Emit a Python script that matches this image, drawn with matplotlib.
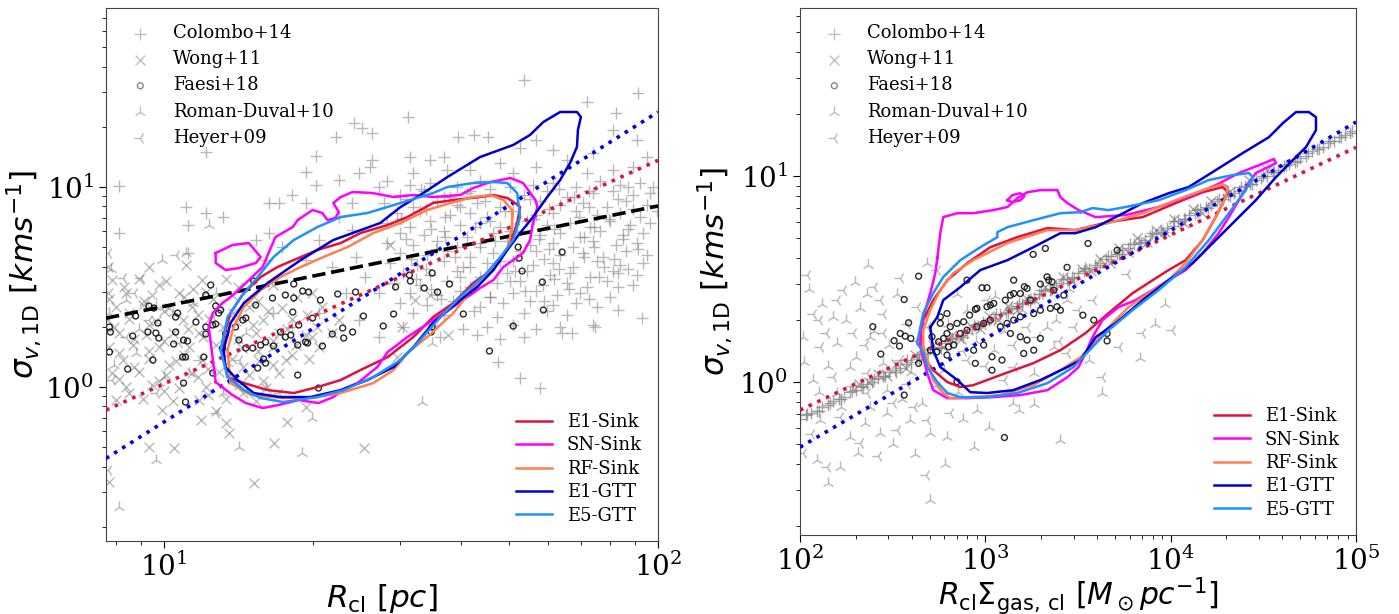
import numpy as np
import matplotlib
matplotlib.use('Agg')
import matplotlib.pyplot as plt
from matplotlib.ticker import NullFormatter

plt.rcParams['font.family'] = ['DejaVu Serif']
plt.rcParams['mathtext.fontset'] = 'dejavusans'

# ---------------- data (log10 values) ----------------
# Left panel: (log10 R_cl [pc], log10 sigma [km/s])
colombo_left = [
    (1.451,1.03),(1.499,1.01),(1.539,1.02),(1.593,1.00),(1.640,1.03),(1.748,1.01),(1.788,1.02),(1.835,1.00),(1.882,1.03),(1.923,1.01),(1.963,1.02),(1.990,1.00),
    (1.478,0.96),(1.526,0.98),(1.566,0.95),(1.613,0.97),(1.660,0.99),(1.728,0.96),(1.775,0.98),(1.815,0.95),(1.869,0.97),(1.909,0.98),(1.950,0.96),(1.983,0.97),
    (1.445,0.92),(1.505,0.90),(1.552,0.93),(1.593,0.91),(1.633,0.92),(1.680,0.90),(1.761,0.93),(1.802,0.91),(1.849,0.92),(1.896,0.90),(1.936,0.93),(1.977,0.91),
    (1.472,0.87),(1.519,0.88),(1.579,0.86),(1.620,0.87),(1.653,0.85),(1.707,0.88),(1.754,0.86),(1.788,0.87),(1.835,0.88),(1.876,0.86),(1.923,0.87),(1.963,0.85),(1.997,0.88),
    (1.451,0.82),(1.499,0.80),(1.539,0.83),(1.600,0.81),(1.640,0.82),(1.680,0.80),(1.734,0.83),(1.775,0.81),(1.822,0.82),(1.862,0.80),(1.903,0.83),(1.943,0.81),(1.983,0.82),
    (1.478,0.77),(1.526,0.76),(1.566,0.78),(1.613,0.75),(1.667,0.77),(1.714,0.78),(1.761,0.76),(1.802,0.77),(1.842,0.75),(1.882,0.78),(1.930,0.76),(1.970,0.77),
    (1.451,0.72),(1.505,0.71),(1.552,0.73),(1.593,0.70),(1.640,0.72),(1.694,0.73),(1.741,0.71),(1.788,0.72),(1.829,0.70),(1.869,0.73),(1.916,0.71),(1.957,0.72),
    (1.478,0.67),(1.532,0.66),(1.573,0.68),(1.620,0.65),(1.667,0.67),(1.754,0.68),(1.802,0.66),(1.849,0.67),(1.889,0.65),(1.936,0.68),(1.977,0.66),
    (1.458,0.62),(1.512,0.61),(1.566,0.63),(1.606,0.60),(1.653,0.62),(1.707,0.63),(1.748,0.61),(1.788,0.62),(1.829,0.60),(1.876,0.63),(1.923,0.61),(1.970,0.62),
    (1.485,0.57),(1.539,0.56),(1.593,0.58),(1.640,0.55),(1.694,0.57),(1.734,0.58),(1.781,0.56),(1.822,0.57),(1.862,0.55),(1.909,0.58),(1.957,0.56),
    (1.465,0.52),(1.519,0.51),(1.573,0.53),(1.620,0.50),(1.674,0.52),(1.721,0.53),(1.768,0.51),(1.815,0.52),(1.856,0.50),(1.896,0.53),(1.950,0.51),
    (1.499,0.47),(1.552,0.46),(1.600,0.48),(1.660,0.45),(1.707,0.47),(1.754,0.48),(1.795,0.46),(1.842,0.47),(1.903,0.45),
    (1.478,0.42),(1.532,0.41),(1.586,0.43),(1.640,0.40),(1.687,0.42),(1.741,0.43),(1.788,0.41),(1.835,0.42),(1.876,0.40),
    (1.505,0.37),(1.566,0.36),(1.627,0.38),(1.674,0.35),(1.728,0.37),(1.775,0.38),(1.815,0.36),
    (1.485,0.30),(1.546,0.31),(1.606,0.29),(1.653,0.30),(1.707,0.31),(1.754,0.29),(1.802,0.30),(1.869,0.31),
    (1.559,0.25),(1.633,0.26),(1.680,0.24),(1.728,0.25),
    (1.52,0.99),(1.62,0.98),(1.70,1.00),(1.80,0.99),(1.86,0.98),(1.94,1.00),
    (1.49,0.94),(1.58,0.95),(1.65,0.93),(1.74,0.94),(1.83,0.95),(1.92,0.94),
    (1.53,0.89),(1.60,0.90),(1.69,0.88),(1.78,0.89),(1.86,0.90),(1.95,0.89),
    (1.48,0.84),(1.57,0.85),(1.66,0.83),(1.75,0.84),(1.84,0.85),(1.90,0.84),
    (1.54,0.79),(1.63,0.80),(1.70,0.78),(1.79,0.79),(1.87,0.80),(1.94,0.79),
    (1.49,0.74),(1.57,0.75),(1.67,0.73),(1.76,0.74),(1.85,0.75),(1.93,0.74),
    (1.55,0.69),(1.64,0.70),(1.72,0.68),(1.78,0.69),(1.87,0.70),(1.96,0.69),
    (1.50,0.64),(1.59,0.65),(1.68,0.63),(1.77,0.64),(1.85,0.65),(1.91,0.64),
    (1.53,0.59),(1.62,0.60),(1.71,0.58),(1.80,0.59),(1.89,0.60),(1.94,0.59),
    (1.51,0.54),(1.60,0.55),(1.70,0.53),(1.79,0.54),(1.88,0.55),
    (1.54,0.49),(1.63,0.50),(1.73,0.48),(1.82,0.49),(1.92,0.50),
    (1.56,0.44),(1.66,0.45),(1.77,0.43),(1.86,0.44),
    (1.596,1.252),(1.627,1.26),(1.657,1.252),(1.754,1.235),(1.788,1.185),(1.815,1.135),(1.869,1.168),(1.909,1.285),
    (1.957,1.235),(1.977,1.152),(1.950,1.102),(1.909,1.085),(1.721,1.193),(1.539,1.135),(1.566,1.152),(1.499,1.152),
    (1.505,1.068),(1.573,1.085),(1.620,1.085),(1.680,1.118),(1.707,1.068),(1.754,1.102),(1.856,1.068),
    (1.728,1.535),(1.960,1.468),(1.856,1.427),(1.916,1.368),(1.495,1.348),
    (1.677,0.127),(1.721,0.043),(1.761,-0.007),(1.805,0.268),(1.825,0.268),(1.872,0.302),(1.919,0.385),(1.967,0.343),(1.919,0.568),
    (0.910,1.005),(1.085,1.177),(1.045,0.902),(1.085,0.868),(1.119,0.852),(0.910,0.772),(1.048,0.810),(1.048,0.668),
    (1.307,1.155),(1.287,1.077),(1.348,1.252),(1.385,1.318),(1.401,1.293),(1.422,1.268),(1.213,0.918),(1.233,0.918),
    (1.422,1.135),(1.418,1.102),(1.395,1.068),(1.354,1.035),(1.260,0.960),(1.307,1.010),(1.287,0.918),(1.381,0.918),
    (1.435,1.002),(1.186,0.735),(1.213,0.768),(1.240,0.702),(1.354,0.852),(1.381,0.785),(1.388,0.652),(1.314,0.735),
    (1.287,0.635),(1.206,0.635),(1.341,0.602),(1.408,0.552),(1.435,0.468),(1.368,0.468),(1.314,0.368),(1.395,0.335),
    (1.435,0.252),(1.260,0.302),(1.220,0.368),
]

wong_left = [
    (0.888,0.602),(0.971,0.60),(1.045,0.61),
    (0.896,0.535),(0.950,0.54),(1.004,0.53),(1.078,0.535),(1.125,0.54),
    (0.888,0.468),(0.923,0.47),(0.977,0.46),(1.031,0.468),(1.085,0.475),(1.139,0.46),(1.300,0.468),
    (0.903,0.402),(0.957,0.41),(1.011,0.395),(1.058,0.40),(1.112,0.41),(1.173,0.40),(1.240,0.395),(1.321,0.402),
    (0.888,0.335),(0.930,0.34),(0.984,0.33),(1.038,0.335),(1.092,0.34),(1.146,0.33),(1.200,0.335),(1.260,0.34),(1.354,0.335),
    (0.910,0.268),(0.964,0.26),(1.018,0.27),(1.071,0.268),(1.125,0.26),(1.186,0.27),(1.233,0.268),(1.287,0.26),(1.341,0.27),
    (0.890,0.202),(0.937,0.21),(0.991,0.20),(1.051,0.202),(1.105,0.21),(1.159,0.195),(1.220,0.202),(1.267,0.21),(1.314,0.20),
    (0.917,0.135),(0.971,0.14),(1.024,0.13),(1.078,0.135),(1.139,0.14),(1.193,0.13),(1.247,0.135),(1.294,0.14),
    (0.896,0.068),(0.950,0.075),(1.004,0.06),(1.058,0.068),(1.112,0.075),(1.173,0.06),(1.233,0.068),
    (0.923,0.002),(0.977,0.01),(1.031,-0.005),(1.085,0.002),(1.152,0.01),(1.206,-0.005),
    (0.903,-0.065),(0.957,-0.06),(1.018,-0.07),(1.071,-0.065),(1.125,-0.06),(1.186,-0.07),
    (0.997,-0.115),(1.105,-0.12),
    (0.92,0.50),(0.99,0.51),(1.06,0.49),(1.15,0.50),(1.22,0.51),
    (0.89,0.44),(0.96,0.43),(1.04,0.45),(1.10,0.44),(1.19,0.43),(1.27,0.45),
    (0.93,0.37),(1.00,0.38),(1.07,0.36),(1.14,0.37),(1.21,0.38),(1.29,0.36),
    (0.90,0.30),(0.97,0.31),(1.05,0.29),(1.12,0.30),(1.18,0.31),(1.25,0.29),(1.31,0.30),
    (0.94,0.24),(1.00,0.23),(1.08,0.25),(1.15,0.24),(1.22,0.23),(1.30,0.25),
    (0.91,0.17),(0.97,0.18),(1.04,0.16),(1.12,0.17),(1.19,0.18),(1.26,0.16),
    (0.94,0.10),(1.01,0.11),(1.09,0.09),(1.16,0.10),(1.22,0.11),
    (0.91,0.04),(0.99,0.03),(1.07,0.05),(1.14,0.04),(1.20,0.03),
    (0.93,-0.03),(1.00,-0.02),(1.09,-0.04),(1.16,-0.03),
    (1.075,-0.165),(1.125,-0.182),(1.132,-0.232),(1.021,-0.307),(0.971,-0.298),(1.183,-0.482),
    (1.223,-0.282),(1.250,-0.173),(1.405,-0.307),(0.890,-0.473),(1.287,-0.098),
    (1.509,0.435),(1.539,0.46),(1.576,0.26),(1.458,0.71),(1.482,0.302),(1.472,0.152),
]

faesi_left = [
    (1.095,0.51),(1.085,0.46),(0.970,0.405),(0.980,0.395),(1.028,0.37),(1.024,0.35),(0.943,0.355),(1.065,0.325),
    (0.890,0.30),(0.892,0.275),(0.988,0.32),(0.968,0.275),(0.937,0.255),(0.984,0.27),(0.990,0.245),(1.024,0.275),
    (1.040,0.235),(1.048,0.23),(1.020,0.215),(1.085,0.30),(1.085,0.265),(1.099,0.31),(1.105,0.315),(1.111,0.37),
    (1.105,0.405),(1.115,0.385),(0.890,0.175),(0.927,0.09),(0.978,0.135),(1.038,0.15),(1.044,0.15),(1.081,0.15),
    (1.099,0.07),(1.040,0.02),(1.044,-0.075),(1.119,0.195),(1.125,0.265),(1.145,0.30),(1.152,0.235),(1.160,0.335),
    (1.166,0.345),(1.182,0.53),(1.186,0.41),(1.220,0.445),(1.246,0.46),(1.263,0.445),(1.263,0.515),(1.281,0.48),
    (1.293,0.475),(1.317,0.435),(1.352,0.465),(1.388,0.475),(1.404,0.355),(1.444,0.305),(1.362,0.295),(1.364,0.245),
    (1.382,0.275),(1.341,0.265),(1.321,0.205),(1.287,0.225),(1.291,0.22),(1.271,0.21),(1.257,0.26),(1.246,0.25),
    (1.222,0.205),(1.206,0.225),(1.196,0.21),(1.180,0.195),(1.166,0.195),(1.202,0.14),(1.206,0.12),(1.190,0.095),
    (1.271,0.06),(1.313,-0.005),(1.273,0.31),(1.261,0.375),(1.301,0.345),(1.236,0.275),
    (1.717,0.70),(1.719,0.645),(1.725,0.58),(1.806,0.675),(1.766,0.525),(1.768,0.385),(1.707,0.305),(1.543,0.57),
    (1.497,0.56),(1.499,0.53),(1.469,0.50),(1.527,0.495),(1.554,0.475),(1.578,0.515),(1.465,0.365),(1.606,0.365),
    (1.543,0.30),(1.541,0.275),(1.659,0.18),
]

romanduval_left = [
    (0.997,0.635),(1.045,0.672),(0.893,0.588),(1.092,0.81),(0.984,0.402),(1.300,-0.157),(1.280,-0.332),
    (0.984,-0.365),(0.910,-0.598),(1.152,-0.298),(1.542,0.218),(1.522,-0.073),(0.923,0.435),(1.018,0.368),
    (1.105,0.468),(0.944,0.168),(1.051,0.068),(1.166,0.268),(0.890,0.368),(1.119,-0.032),(1.206,0.002),
    (0.95,0.29),(1.06,0.42),(1.13,0.12),(0.90,0.11),(1.00,0.05),
]

heyer_left = [
    (1.024,0.66),(0.917,0.543),(0.954,0.543),(0.888,0.668),(0.971,0.335),(1.071,0.135),(0.896,0.035),
    (0.984,-0.032),(1.152,0.135),(0.923,0.252),(1.233,-0.032),(1.105,-0.132),(0.888,-0.415),
    (1.03,0.22),(1.10,0.35),(0.94,0.47),
]

# Right panel: (log10 R_cl*Sigma_gas [Msun/pc], log10 sigma [km/s])
colombo_right = [
    (2.00,-0.18),(2.03,-0.16),(2.06,-0.15),(2.09,-0.14),(2.12,-0.12),(2.15,-0.11),(2.18,-0.09),(2.21,-0.08),
    (2.24,-0.07),(2.27,-0.05),(2.30,-0.04),(2.33,-0.02),(2.36,-0.01),(2.39,0.00),(2.42,0.02),(2.45,0.03),
    (2.48,0.05),(2.51,0.06),(2.54,0.07),(2.57,0.09),(2.60,0.10),(2.63,0.12),(2.66,0.13),(2.69,0.14),
    (2.72,0.16),(2.75,0.17),(2.78,0.19),(2.81,0.20),(2.84,0.21),(2.87,0.23),(2.90,0.24),(2.93,0.26),
    (2.96,0.27),(2.99,0.29),(3.02,0.30),(3.05,0.31),(3.08,0.33),(3.11,0.34),(3.14,0.36),(3.17,0.37),
    (3.20,0.38),(3.23,0.40),(3.26,0.41),(3.29,0.43),(3.32,0.44),(3.35,0.45),(3.38,0.47),(3.41,0.48),
    (3.44,0.50),(3.47,0.51),(3.50,0.53),(3.53,0.54),(3.56,0.55),(3.59,0.57),(3.62,0.58),(3.65,0.60),
    (3.68,0.61),(3.71,0.62),(3.74,0.64),(3.77,0.65),(3.80,0.67),(3.83,0.68),(3.86,0.69),(3.89,0.71),
    (3.92,0.72),(3.95,0.74),(3.98,0.75),(4.01,0.76),(4.04,0.78),(4.07,0.79),(4.10,0.81),(4.13,0.82),
    (4.16,0.84),(4.19,0.85),(4.22,0.86),(4.25,0.88),(4.28,0.89),(4.31,0.91),(4.34,0.92),(4.37,0.93),
    (4.40,0.95),(4.43,0.96),(4.46,0.98),(4.49,0.99),(4.52,1.00),(4.55,1.02),(4.58,1.03),(4.61,1.05),
    (4.64,1.06),(4.67,1.07),(4.70,1.09),(4.73,1.10),(4.76,1.12),(4.79,1.13),(4.82,1.14),(4.85,1.16),
    (4.88,1.17),(4.91,1.19),(4.94,1.20),(4.97,1.21),
    (2.04,-0.155),(2.10,-0.14),(2.16,-0.10),(2.22,-0.08),(2.28,-0.045),(2.34,-0.025),(2.40,0.015),(2.46,0.03),
    (2.52,0.05),(2.58,0.105),(2.64,0.11),(2.70,0.16),(2.76,0.165),(2.82,0.215),(2.88,0.22),(2.94,0.275),
    (3.00,0.28),(3.06,0.33),(3.12,0.335),(3.18,0.385),(3.24,0.39),(3.30,0.445),(3.36,0.45),(3.42,0.50),
    (3.48,0.505),(3.54,0.555),(3.60,0.56),(3.66,0.61),(3.72,0.62),(3.78,0.67),(3.84,0.675),(3.90,0.725),
    (3.96,0.73),(4.02,0.78),(4.08,0.79),(4.14,0.835),(4.20,0.845),(4.26,0.89),(4.32,0.905),(4.38,0.945),
    (4.44,0.96),(4.50,1.00),(4.56,1.02),(4.62,1.055),(4.68,1.075),(4.74,1.11),(4.80,1.13),(4.86,1.17),
    (4.92,1.19),(4.98,1.22),
]

wong_right = [
    (2.32,-0.01),(2.37,0.00),(2.42,0.04),(2.47,0.03),(2.52,0.09),(2.57,0.07),(2.62,0.13),(2.67,0.12),
    (2.72,0.18),(2.77,0.17),(2.82,0.23),(2.87,0.21),(2.92,0.27),(2.97,0.26),(3.02,0.32),(3.07,0.30),
    (3.12,0.37),(3.17,0.35),(3.22,0.41),(3.27,0.40),(3.32,0.46),(3.37,0.44),(3.42,0.51),(3.47,0.49),
    (3.52,0.55),(3.57,0.54),(3.62,0.60),(3.67,0.58),(3.72,0.65),(3.77,0.63),(3.82,0.70),(3.87,0.68),
    (3.92,0.74),(3.97,0.73),(4.02,0.79),(4.07,0.77),(4.12,0.84),(4.17,0.82),(4.22,0.88),(4.32,0.93),
    (4.42,0.98),(4.52,1.03),
]

faesi_right = [
    (2.640,0.514),(2.562,0.401),(2.586,0.288),(2.393,0.269),(2.541,0.236),(2.568,0.223),(2.598,0.212),(2.508,0.201),
    (2.537,0.175),(2.436,0.136),(2.640,0.091),(2.562,-0.063),(3.103,-0.269),(2.982,0.458),(3.009,0.458),(2.901,0.495),
    (3.258,0.620),(3.324,0.649),(3.153,0.495),(3.211,0.463),(3.225,0.455),(3.297,0.476),(3.333,0.511),(3.342,0.495),
    (3.360,0.487),(3.369,0.446),(3.441,0.557),(3.243,0.398),(3.189,0.430),(3.153,0.430),(3.108,0.398),(3.045,0.382),
    (3.009,0.366),(2.955,0.358),(2.915,0.325),(2.883,0.293),(2.847,0.285),(2.811,0.269),(2.793,0.236),(2.775,0.212),
    (2.802,0.171),(2.829,0.180),(2.865,0.236),(2.901,0.252),(2.955,0.269),(2.991,0.285),(3.027,0.301),(3.081,0.269),
    (3.117,0.285),(3.153,0.301),(3.189,0.317),(3.261,0.333),(3.297,0.349),(3.351,0.358),(3.405,0.349),(3.423,0.422),
    (3.387,0.366),(3.135,0.236),(3.189,0.220),(3.225,0.204),(3.207,0.139),(3.261,0.155),(3.297,0.212),(2.991,0.180),
    (2.937,0.155),(3.036,0.123),(3.090,0.107),(2.946,0.091),(3.036,0.058),(2.847,0.002),(2.793,0.131),(2.739,0.147),
    (2.748,0.196),(2.793,0.333),(2.946,0.353),(3.027,0.374),(3.135,0.422),(2.757,0.317),(2.757,0.285),(2.712,0.220),
    (2.703,0.155),(3.554,0.673),(3.711,0.640),(3.526,0.325),(3.585,0.301),(3.657,0.236),(3.657,0.200),
]

romanduval_right = [
    (2.369,0.568),(2.297,0.487),(2.360,0.430),(2.523,0.430),(2.180,0.317),(2.324,0.358),(2.685,0.576),(2.018,0.220),
    (2.198,0.188),(2.378,0.220),(2.072,0.010),(2.270,0.074),(2.450,0.091),(2.198,-0.055),(2.468,-0.039),(2.108,-0.185),
    (2.270,-0.265),(2.432,-0.249),(2.595,-0.185),(2.793,-0.265),(2.703,-0.249),(2.090,-0.379),(2.216,-0.411),(2.315,-0.346),
    (3.180,-0.136),(3.405,-0.282),(2.468,-0.152),(3.261,-0.104),(3.972,0.381),(3.918,0.284),(3.837,0.115),(3.630,-0.055),
    (3.558,0.106),(2.847,0.430),(3.171,0.366),(3.441,0.398),(3.369,0.171),(3.045,0.155),(2.775,0.058),(2.649,0.139),
    (3.333,0.269),(3.261,0.042),(2.153,-0.492),(2.703,-0.573),(2.955,-0.136),(2.937,-0.314),
    (2.05,0.45),(2.12,0.38),(2.25,0.30),(2.40,0.25),(2.48,0.18),(2.30,0.12),(2.15,0.08),(2.60,0.05),
    (2.55,-0.08),(2.38,-0.12),(2.66,-0.10),(2.85,-0.05),(2.95,0.20),(3.10,0.25),(3.20,0.35),(3.38,0.30),
    (3.45,0.45),(3.05,0.42),(2.90,0.35),(2.80,0.28),(2.02,0.10),(2.10,-0.05),(2.22,-0.12),(2.35,-0.20),
    (2.50,-0.30),(2.62,-0.35),(2.78,-0.40),(2.88,-0.18),(3.02,-0.22),(3.15,-0.10),
]

heyer_right = [
    (2.541,0.503),(2.234,0.446),(2.432,0.398),(2.631,0.366),(2.072,0.333),(2.450,0.333),(2.739,0.544),(2.108,0.171),
    (2.288,0.236),(2.180,0.026),(2.360,0.042),(2.541,0.107),(2.360,-0.055),(2.577,-0.007),(2.216,-0.168),(2.324,-0.298),
    (2.523,-0.233),(2.685,-0.185),(2.018,-0.346),(2.144,-0.411),(2.811,-0.152),(2.613,-0.120),(3.846,0.236),(4.009,0.252),
    (3.630,0.025),(3.765,0.527),(3.720,0.171),(3.009,0.398),(3.297,0.430),(3.477,0.269),(3.153,0.074),(2.901,0.107),
    (2.685,0.269),(3.225,0.269),(3.099,0.010),(3.441,0.139),
    (2.10,0.30),(2.20,0.40),(2.35,0.18),(2.45,0.24),(2.58,0.28),(2.62,0.20),(2.28,-0.02),(2.50,-0.10),
    (2.74,-0.02),(2.88,0.15),(3.00,0.08),(3.15,0.18),(3.28,0.22),(3.40,0.20),(3.50,0.35),(3.58,0.40),
    (2.04,0.52),(2.14,0.24),(2.40,0.46),(2.06,-0.25),(2.42,-0.36),(2.68,-0.45),
]

# Fit lines (endpoints, data units)
larson_R = [7.64, 100.0]
larson_sig = [2.21, 8.04]
fit_red_left_R = [7.64, 100.0]
fit_red_left_sig = [0.767, 13.6]
fit_blue_left_R = [7.64, 100.0]
fit_blue_left_sig = [0.44, 23.7]
fit_red_right_X = [1e2, 1e5]
fit_red_right_sig = [0.731, 13.8]
fit_blue_right_X = [1e2, 1e5]
fit_blue_right_sig = [0.483, 18.3]

# Simulation contours (log10 x, log10 sigma)
contours_left = {
    'E1-Sink': [[(1.121,0.15),(1.129,0.05),(1.162,0.02),(1.210,-0.015),(1.263,-0.03),(1.311,0.0),(1.358,0.035),(1.398,0.085),
                 (1.453,0.15),(1.505,0.25),(1.545,0.35),(1.586,0.42),(1.626,0.52),(1.655,0.57),(1.681,0.635),(1.701,0.72),
                 (1.715,0.82),(1.721,0.90),(1.711,0.92),(1.695,0.945),(1.667,0.96),(1.640,0.95),(1.586,0.935),(1.545,0.92),
                 (1.493,0.85),(1.453,0.81),(1.398,0.77),(1.358,0.72),(1.311,0.685),(1.263,0.635),(1.230,0.60),(1.196,0.55),
                 (1.162,0.47),(1.135,0.37),(1.121,0.25)]],
    'SN-Sink': [[(1.105,0.025),(1.091,0.30),(1.099,0.37),(1.119,0.42),(1.145,0.47),(1.166,0.52),(1.200,0.60),(1.212,0.67),
                 (1.226,0.75),(1.261,0.80),(1.271,0.835),(1.301,0.885),(1.321,0.87),(1.331,0.835),(1.347,0.845),(1.354,0.875),
                 (1.343,0.92),(1.358,0.95),(1.382,0.975),(1.422,0.97),(1.465,0.95),(1.505,0.96),(1.545,0.95),(1.600,0.96),
                 (1.626,0.995),(1.661,1.025),(1.701,1.045),(1.727,1.02),(1.752,0.935),(1.756,0.90),(1.747,0.82),(1.741,0.735),
                 (1.727,0.67),(1.687,0.60),(1.667,0.535),(1.640,0.495),(1.600,0.425),(1.545,0.335),(1.493,0.25),(1.453,0.175),
                 (1.432,0.10),(1.392,0.02),(1.368,-0.005),(1.343,-0.05),(1.313,-0.08),(1.273,-0.065),(1.232,-0.09),(1.200,-0.105),
                 (1.166,-0.08),(1.139,-0.04)],
                [(1.105,0.67),(1.139,0.71),(1.172,0.72),(1.196,0.65),(1.186,0.62),(1.152,0.595),(1.125,0.585),(1.105,0.62)]],
    'RF-Sink': [[(1.129,0.185),(1.135,0.02),(1.176,-0.04),(1.242,-0.055),(1.311,-0.05),(1.358,-0.03),(1.424,0.02),(1.465,0.085),
                 (1.493,0.17),(1.533,0.25),(1.586,0.37),(1.634,0.52),(1.667,0.60),(1.695,0.685),(1.705,0.80),(1.705,0.885),
                 (1.687,0.935),(1.661,0.96),(1.626,0.95),(1.580,0.92),(1.533,0.885),(1.479,0.82),(1.424,0.77),(1.372,0.70),
                 (1.323,0.65),(1.277,0.60),(1.236,0.55),(1.196,0.485),(1.162,0.40),(1.141,0.30)]],
    'E1-GTT': [[(1.121,0.185),(1.125,0.10),(1.149,0.035),(1.182,-0.03),(1.236,-0.05),(1.297,-0.05),(1.358,-0.015),(1.412,0.035),
                (1.465,0.10),(1.505,0.20),(1.545,0.32),(1.600,0.435),(1.634,0.50),(1.667,0.585),(1.695,0.685),(1.721,0.77),
                (1.747,0.85),(1.776,0.95),(1.802,1.035),(1.822,1.12),(1.836,1.20),(1.838,1.285),(1.844,1.35),(1.836,1.375),
                (1.802,1.375),(1.768,1.325),(1.741,1.26),(1.707,1.21),(1.640,1.15),(1.574,1.05),(1.519,0.96),(1.479,0.90),
                (1.438,0.82),(1.343,0.735),(1.277,0.635),(1.210,0.52),(1.162,0.42),(1.135,0.32)]],
    'E5-GTT': [[(1.115,0.185),(1.129,0.05),(1.162,-0.015),(1.196,-0.055),(1.242,-0.075),(1.311,-0.05),(1.364,-0.015),(1.424,0.05),
                (1.479,0.135),(1.519,0.235),(1.560,0.35),(1.600,0.45),(1.646,0.55),(1.681,0.65),(1.707,0.735),(1.721,0.85),
                (1.715,0.97),(1.695,1.02),(1.667,1.025),(1.626,1.02),(1.574,1.00),(1.545,0.97),(1.479,0.92),(1.412,0.87),
                (1.358,0.85),(1.311,0.80),(1.263,0.735),(1.222,0.65),(1.190,0.55),(1.156,0.45),(1.129,0.35)]],
}

contours_right = {
    'E1-Sink': [[(2.649,0.189),(2.665,0.301),(2.719,0.398),(2.795,0.495),(2.903,0.578),(3.027,0.655),(3.173,0.704),(3.335,0.748),
                 (3.486,0.738),(3.665,0.777),(3.849,0.801),(4.027,0.869),(4.173,0.922),(4.281,0.947),(4.308,0.922),(4.281,0.869),
                 (4.243,0.801),(4.173,0.689),(4.081,0.592),(3.989,0.544),(3.903,0.495),(3.795,0.432),(3.665,0.335),(3.541,0.238),
                 (3.405,0.155),(3.259,0.092),(3.081,0.034),(2.935,-0.015),(2.865,-0.024),(2.795,0.0),(2.719,0.058),(2.665,0.121)]],
    'SN-Sink': [[(2.741,0.602),(2.757,0.723),(2.773,0.801),(2.849,0.820),(2.935,0.820),(3.043,0.835),(3.119,0.850),(3.173,0.893),
                 (3.227,0.922),(3.297,0.932),(3.389,0.932),(3.405,0.898),(3.443,0.869),(3.503,0.835),(3.595,0.801),(3.757,0.811),
                 (3.935,0.850),(4.119,0.908),(4.243,0.956),(4.368,1.015),(4.476,1.053),(4.557,1.083),(4.568,1.063),(4.514,1.039),
                 (4.459,1.015),(4.422,0.966),(4.368,0.883),(4.314,0.801),(4.259,0.723),(4.173,0.626),(4.081,0.544),(3.989,0.495),
                 (3.903,0.447),(3.811,0.398),(3.719,0.364),(3.632,0.301),(3.578,0.218),(3.541,0.141),(3.503,0.073),(3.443,0.024),
                 (3.335,-0.039),(3.189,-0.063),(3.043,-0.073),(2.903,-0.078),(2.795,-0.078),(2.719,-0.039),(2.686,0.044),(2.659,0.141),
                 (2.649,0.218),(2.665,0.316),(2.703,0.432),(2.730,0.529)],
                [(3.119,0.883),(3.146,0.908),(3.189,0.917),(3.211,0.903),(3.189,0.883),(3.146,0.874)]],
    'RF-Sink': [[(2.665,0.170),(2.719,0.010),(2.773,-0.053),(2.811,-0.078),(2.935,-0.073),(3.081,-0.063),(3.259,-0.015),(3.405,0.058),
                 (3.514,0.121),(3.665,0.267),(3.773,0.364),(3.881,0.432),(3.989,0.495),(4.081,0.578),(4.173,0.689),(4.243,0.801),
                 (4.297,0.898),(4.308,0.947),(4.281,0.961),(4.173,0.932),(4.027,0.883),(3.849,0.820),(3.665,0.772),(3.486,0.738),
                 (3.335,0.738),(3.119,0.675),(2.935,0.592),(2.827,0.529),(2.757,0.447),(2.703,0.350),(2.665,0.252)]],
    'E1-GTT': [[(2.703,0.267),(2.719,0.155),(2.757,0.073),(2.849,0.010),(2.919,-0.049),(3.011,-0.053),(3.151,-0.039),(3.297,0.010),
                (3.443,0.073),(3.514,0.107),(3.595,0.218),(3.703,0.286),(3.849,0.398),(3.989,0.495),(4.119,0.578),(4.243,0.689),
                (4.351,0.786),(4.459,0.883),(4.568,0.995),(4.659,1.078),(4.730,1.141),(4.784,1.223),(4.784,1.286),(4.746,1.311),
                (4.676,1.311),(4.605,1.257),(4.530,1.189),(4.389,1.112),(4.243,1.029),(4.097,0.947),(3.989,0.917),(3.849,0.869),
                (3.703,0.801),(3.595,0.752),(3.486,0.723),(3.405,0.723),(3.259,0.655),(3.119,0.592),(2.973,0.544),(2.865,0.461),
                (2.773,0.398),(2.741,0.316)]],
    'E5-GTT': [[(3.514,0.825),(3.405,0.820),(3.259,0.786),(3.119,0.752),(3.065,0.728),(3.065,0.704),(2.973,0.655),(2.865,0.592),
                (2.773,0.510),(2.719,0.432),(2.665,0.335),(2.632,0.189),(2.665,0.146),(2.686,0.073),(2.741,0.0),(2.795,-0.053),
                (2.865,-0.073),(3.011,-0.073),(3.173,-0.053),(3.335,-0.005),(3.476,0.073),(3.578,0.170),(3.665,0.252),(3.795,0.350),
                (3.935,0.447),(4.081,0.558),(4.205,0.689),(4.314,0.820),(4.405,0.932),(4.443,0.995),(4.422,1.015),(4.335,1.005),
                (4.205,0.981),(4.081,0.932),(3.935,0.883),(3.757,0.850),(3.665,0.835),(3.578,0.845)]],
}

sim_names = ['E1-Sink', 'SN-Sink', 'RF-Sink', 'E1-GTT', 'E5-GTT']
sim_colors = ['#dc143c', '#ff00ff', '#ff7f50', '#0000cd', '#1e90ff']

obs_names = ['Colombo+14', 'Wong+11', 'Faesi+18', 'Roman-Duval+10', 'Heyer+09']


def unlog(pairs):
    a = np.asarray(pairs, dtype=float)
    return 10 ** a[:, 0], 10 ** a[:, 1]


def draw_obs(ax, colombo, wong, faesi, rd, heyer, dense_alpha=0.55):
    gray = '#808080'
    hs = []
    x, y = unlog(colombo)
    hs.append(ax.scatter(x, y, marker='+', s=75, c=gray, alpha=dense_alpha, linewidths=1.0, zorder=1))
    x, y = unlog(wong)
    hs.append(ax.scatter(x, y, marker='x', s=50, c=gray, alpha=dense_alpha, linewidths=1.0, zorder=1))
    x, y = unlog(faesi)
    hs.append(ax.scatter(x, y, marker='o', s=18, facecolors='none', edgecolors='#111111',
                         linewidths=1.0, alpha=0.9, zorder=2))
    x, y = unlog(rd)
    hs.append(ax.scatter(x, y, marker='2', s=80, c=gray, alpha=0.55, linewidths=1.0, zorder=1))
    x, y = unlog(heyer)
    hs.append(ax.scatter(x, y, marker='3', s=80, c=gray, alpha=0.55, linewidths=1.0, zorder=1))
    return hs


def draw_contours(ax, contours):
    hs = []
    for name, col in zip(sim_names, sim_colors):
        h = None
        for poly in contours[name]:
            p = list(poly) + [poly[0]]
            x, y = unlog(p)
            ln, = ax.plot(x, y, color=col, lw=1.8, zorder=5)
            if h is None:
                h = ln
        hs.append(h)
    return hs


def style_axes(ax):
    ax.set_xscale('log')
    ax.set_yscale('log')
    ax.tick_params(axis='both', which='major', labelsize=20, length=5, width=0.8)
    ax.tick_params(axis='both', which='minor', length=3, width=0.6)
    ax.xaxis.set_minor_formatter(NullFormatter())
    ax.yaxis.set_minor_formatter(NullFormatter())
    for s in ax.spines.values():
        s.set_color('#444444')


fig = plt.figure(figsize=(13.99, 6.14), dpi=100)
axL = fig.add_axes([106 / 1399, 1 - 541 / 614, (658 - 106) / 1399, (541 - 8) / 614])
axR = fig.add_axes([800 / 1399, 1 - 535 / 614, (1356 - 800) / 1399, (535 - 8) / 614])

LABEL_FS = 22.5

# ---- left panel ----
obsL = draw_obs(axL, colombo_left, wong_left, faesi_left, romanduval_left, heyer_left)
axL.plot(larson_R, larson_sig, color='black', ls='--', lw=2.6, zorder=4)
axL.plot(fit_red_left_R, fit_red_left_sig, color='#dc143c', ls=':', lw=2.6, zorder=4)
axL.plot(fit_blue_left_R, fit_blue_left_sig, color='#0000ee', ls=':', lw=2.6, zorder=4)
simL = draw_contours(axL, contours_left)
style_axes(axL)
axL.set_xlim(7.64, 100)
axL.set_ylim(0.17, 78.5)
axL.set_xlabel(r'$R_\mathrm{cl}\ [pc]$', fontsize=LABEL_FS, labelpad=0)
axL.set_ylabel(r'$\sigma_{v,\mathrm{1D}}\ [kms^{-1}]$', fontsize=LABEL_FS, labelpad=2)

# ---- right panel ----
obsR = draw_obs(axR, colombo_right, wong_right, faesi_right, romanduval_right, heyer_right, dense_alpha=0.7)
axR.plot(fit_red_right_X, fit_red_right_sig, color='#dc143c', ls=':', lw=2.6, zorder=4)
axR.plot(fit_blue_right_X, fit_blue_right_sig, color='#0000ee', ls=':', lw=2.6, zorder=4)
simR = draw_contours(axR, contours_right)
style_axes(axR)
axR.set_xlim(1e2, 1e5)
axR.set_ylim(0.181, 65.5)
axR.set_xlabel(r'$R_\mathrm{cl}\Sigma_\mathrm{gas,\,cl}\ [M_\odot pc^{-1}]$', fontsize=21.5, labelpad=-0.5)
axR.set_ylabel(r'$\sigma_{v,\mathrm{1D}}\ [kms^{-1}]$', fontsize=LABEL_FS, labelpad=4)

for ax, obs, sim in ((axL, obsL, simL), (axR, obsR, simR)):
    leg1 = ax.legend(obs, obs_names, loc='upper left', frameon=False, fontsize=13,
                     labelspacing=0.45, scatterpoints=1)
    for h in leg1.legend_handles:
        h.set_alpha(0.5)
    ax.add_artist(leg1)
    ax.legend(sim, sim_names, loc='lower right', frameon=False, fontsize=13, labelspacing=0.3)

fig.savefig('out.png', dpi=100)
